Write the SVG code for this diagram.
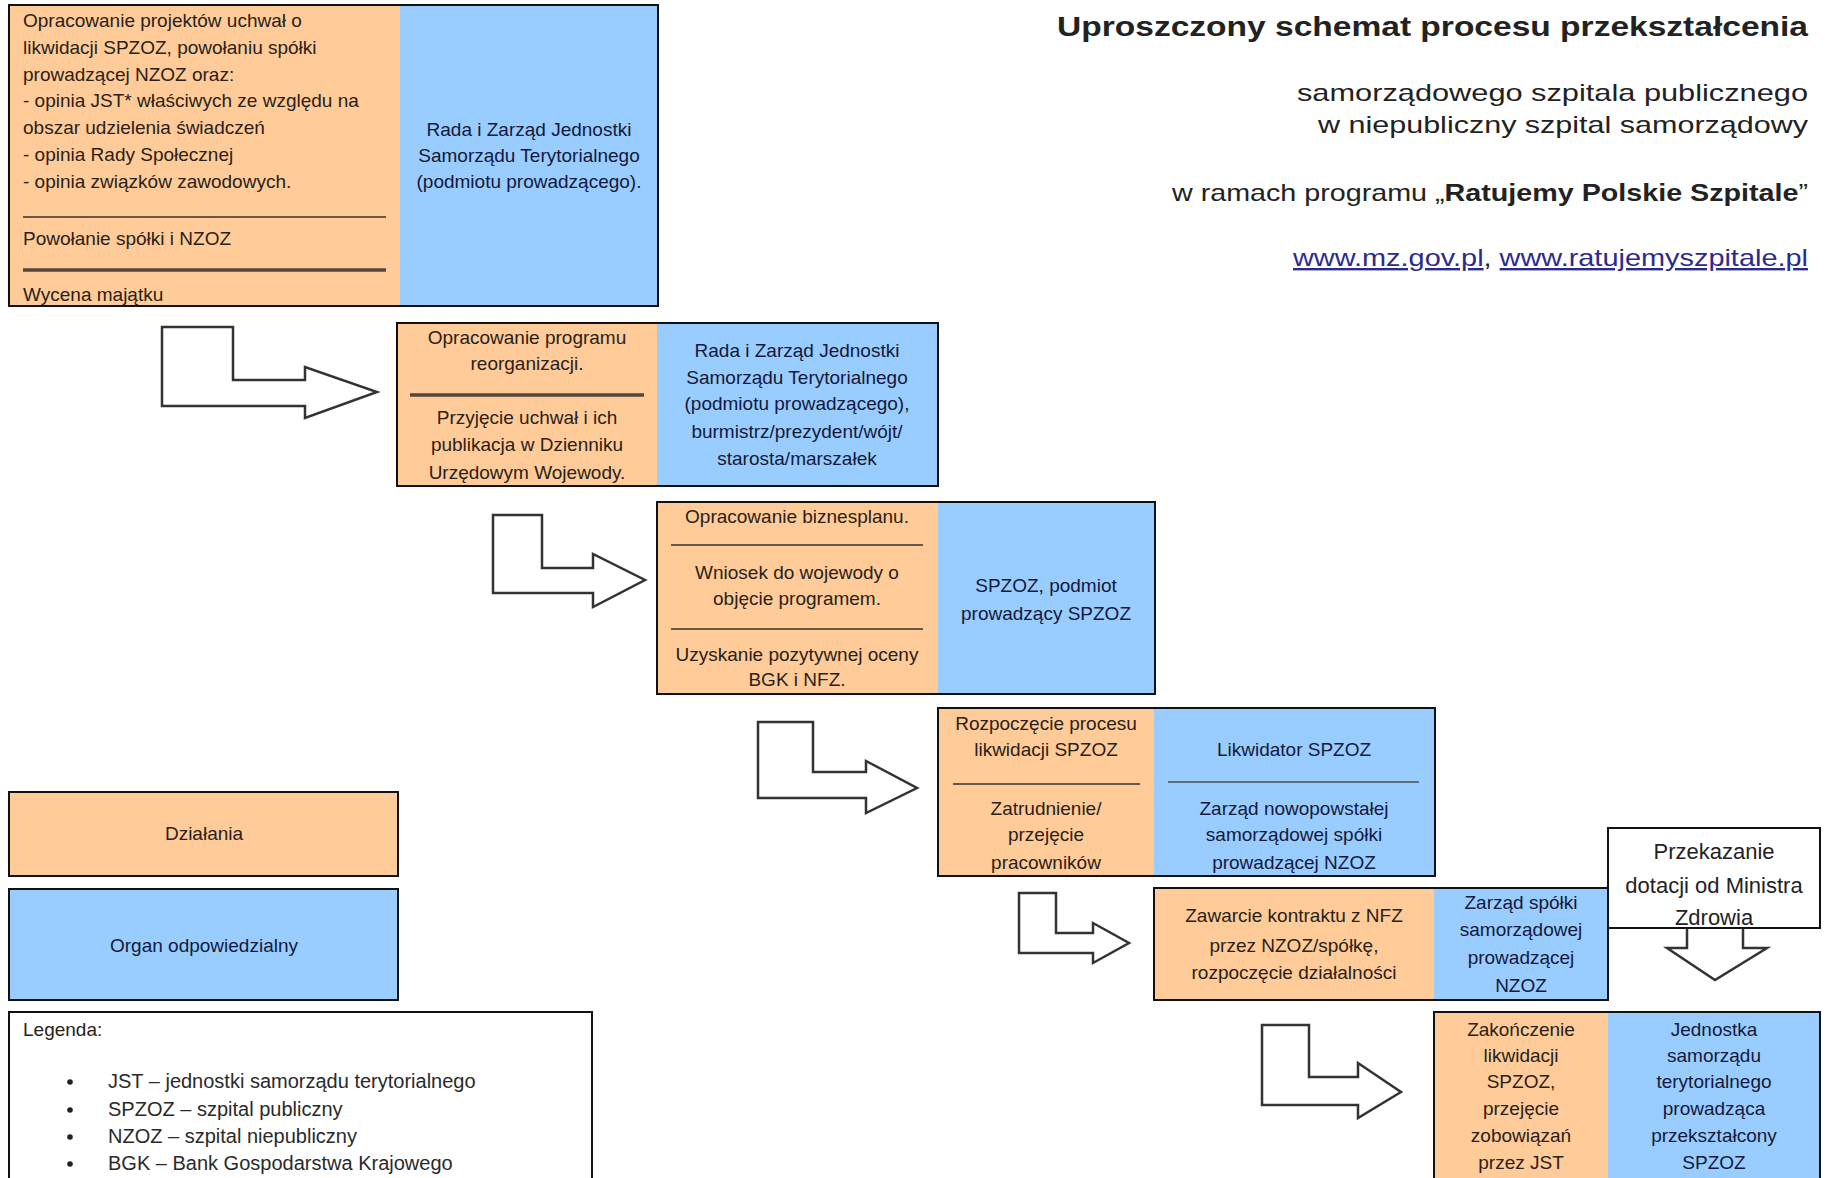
<svg xmlns="http://www.w3.org/2000/svg" width="1827" height="1178" viewBox="0 0 1827 1178">
<style>
.o{fill:#FFCC99}
.b{fill:#99CCFF}
.w{fill:#FFFFFF}
.fr{fill:none;stroke:#111;stroke-width:2}
.t{font-family:"Liberation Sans",Arial,sans-serif;font-size:19px;fill:#2a2118}
.tb{font-family:"Liberation Sans",Arial,sans-serif;font-size:19px;fill:#13193a}
.tl{font-family:"Liberation Sans",Arial,sans-serif;font-size:20px;fill:#2a2a2a}
.tp{font-family:"Liberation Sans",Arial,sans-serif;font-size:22px;fill:#222;text-anchor:middle}
.c{text-anchor:middle}
.so{stroke:#6a5846;stroke-width:2}
.sot{stroke:#55463a;stroke-width:3.5}
.sb{stroke:#5d6e80;stroke-width:2}
.arr{fill:#FFFFFF;stroke:#333;stroke-width:2.5;stroke-linejoin:miter}
.hd{font-family:"Liberation Sans",Arial,sans-serif;fill:#222;text-anchor:end}
.lk{fill:#2b2b8f;text-decoration:underline}
</style>
<rect width="1827" height="1178" fill="#FFFFFF"/>

<g id="header">
<text class="hd" x="1808" y="36" font-size="27" font-weight="bold" textLength="751" lengthAdjust="spacingAndGlyphs">Uproszczony schemat procesu przekształcenia</text>
<text class="hd" x="1808" y="101" font-size="24" textLength="511" lengthAdjust="spacingAndGlyphs">samorządowego szpitala publicznego</text>
<text class="hd" x="1808" y="133" font-size="24" textLength="490" lengthAdjust="spacingAndGlyphs">w niepubliczny szpital samorządowy</text>
<text class="hd" x="1808" y="201" font-size="24" textLength="636" lengthAdjust="spacingAndGlyphs">w ramach programu „<tspan font-weight="bold">Ratujemy Polskie Szpitale</tspan>”</text>
<text class="hd" x="1808" y="266" font-size="24" textLength="515" lengthAdjust="spacingAndGlyphs"><tspan class="lk">www.mz.gov.pl</tspan>, <tspan class="lk">www.ratujemyszpitale.pl</tspan></text>
</g>

<g id="step1">
<rect class="o" x="9" y="5" width="391" height="301"/>
<rect class="b" x="400" y="5" width="258" height="301"/>
<rect class="fr" x="9" y="5" width="649" height="301"/>
<text class="t" x="23" y="27">Opracowanie projektów uchwał o</text>
<text class="t" x="23" y="54">likwidacji SPZOZ, powołaniu spółki</text>
<text class="t" x="23" y="81">prowadzącej NZOZ oraz:</text>
<text class="t" x="23" y="107">- opinia JST* właściwych ze względu na</text>
<text class="t" x="23" y="134">obszar udzielenia świadczeń</text>
<text class="t" x="23" y="161">- opinia Rady Społecznej</text>
<text class="t" x="23" y="188">- opinia związków zawodowych.</text>
<line class="so" x1="23" y1="217" x2="386" y2="217"/>
<text class="t" x="23" y="245">Powołanie spółki i NZOZ</text>
<line class="sot" x1="23" y1="270" x2="386" y2="270"/>
<text class="t" x="23" y="301">Wycena majątku</text>
<text class="tb c" x="529" y="136">Rada i Zarząd Jednostki</text>
<text class="tb c" x="529" y="162">Samorządu Terytorialnego</text>
<text class="tb c" x="529" y="188">(podmiotu prowadzącego).</text>
</g>

<g id="step2">
<rect class="o" x="397" y="323" width="260" height="163"/>
<rect class="b" x="657" y="323" width="281" height="163"/>
<rect class="fr" x="397" y="323" width="541" height="163"/>
<text class="t c" x="527" y="344">Opracowanie programu</text>
<text class="t c" x="527" y="370">reorganizacji.</text>
<line class="sot" x1="410" y1="395" x2="644" y2="395"/>
<text class="t c" x="527" y="424">Przyjęcie uchwał i ich</text>
<text class="t c" x="527" y="451">publikacja w Dzienniku</text>
<text class="t c" x="527" y="479">Urzędowym Wojewody.</text>
<text class="tb c" x="797" y="357">Rada i Zarząd Jednostki</text>
<text class="tb c" x="797" y="384">Samorządu Terytorialnego</text>
<text class="tb c" x="797" y="410">(podmiotu prowadzącego),</text>
<text class="tb c" x="797" y="438">burmistrz/prezydent/wójt/</text>
<text class="tb c" x="797" y="465">starosta/marszałek</text>
</g>

<g id="step3">
<rect class="o" x="657" y="502" width="281" height="192"/>
<rect class="b" x="938" y="502" width="217" height="192"/>
<rect class="fr" x="657" y="502" width="498" height="192"/>
<text class="t c" x="797" y="523">Opracowanie biznesplanu.</text>
<line class="so" x1="671" y1="545" x2="923" y2="545"/>
<text class="t c" x="797" y="579">Wniosek do wojewody o</text>
<text class="t c" x="797" y="605">objęcie programem.</text>
<line class="so" x1="671" y1="629" x2="923" y2="629"/>
<text class="t c" x="797" y="661">Uzyskanie pozytywnej oceny</text>
<text class="t c" x="797" y="686">BGK i NFZ.</text>
<text class="tb c" x="1046" y="592">SPZOZ, podmiot</text>
<text class="tb c" x="1046" y="620">prowadzący SPZOZ</text>
</g>

<g id="step4">
<rect class="o" x="938" y="708" width="216" height="168"/>
<rect class="b" x="1154" y="708" width="281" height="168"/>
<rect class="fr" x="938" y="708" width="497" height="168"/>
<text class="t c" x="1046" y="730">Rozpoczęcie procesu</text>
<text class="t c" x="1046" y="756">likwidacji SPZOZ</text>
<line class="so" x1="953" y1="784" x2="1140" y2="784"/>
<text class="t c" x="1046" y="815">Zatrudnienie/</text>
<text class="t c" x="1046" y="841">przejęcie</text>
<text class="t c" x="1046" y="869">pracowników</text>
<text class="tb c" x="1294" y="756">Likwidator SPZOZ</text>
<line class="sb" x1="1168" y1="782" x2="1419" y2="782"/>
<text class="tb c" x="1294" y="815">Zarząd nowopowstałej</text>
<text class="tb c" x="1294" y="841">samorządowej spółki</text>
<text class="tb c" x="1294" y="869">prowadzącej NZOZ</text>
</g>

<g id="step5">
<rect class="o" x="1154" y="888" width="280" height="112"/>
<rect class="b" x="1434" y="888" width="174" height="112"/>
<rect class="fr" x="1154" y="888" width="454" height="112"/>
<text class="t c" x="1294" y="922">Zawarcie kontraktu z NFZ</text>
<text class="t c" x="1294" y="952">przez NZOZ/spółkę,</text>
<text class="t c" x="1294" y="979">rozpoczęcie działalności</text>
<text class="tb c" x="1521" y="909">Zarząd spółki</text>
<text class="tb c" x="1521" y="936">samorządowej</text>
<text class="tb c" x="1521" y="964">prowadzącej</text>
<text class="tb c" x="1521" y="992">NZOZ</text>
</g>

<g id="dotacja">
<rect class="w" x="1608" y="828" width="212" height="100"/>
<rect class="fr" x="1608" y="828" width="212" height="100"/>
<text class="tp" x="1714" y="859">Przekazanie</text>
<text class="tp" x="1714" y="893">dotacji od Ministra</text>
<text class="tp" x="1714" y="925">Zdrowia</text>
</g>

<g id="step6">
<rect class="o" x="1434" y="1012" width="174" height="170"/>
<rect class="b" x="1608" y="1012" width="212" height="170"/>
<rect class="fr" x="1434" y="1012" width="386" height="170"/>
<text class="t c" x="1521" y="1036">Zakończenie</text>
<text class="t c" x="1521" y="1062">likwidacji</text>
<text class="t c" x="1521" y="1088">SPZOZ,</text>
<text class="t c" x="1521" y="1115">przejęcie</text>
<text class="t c" x="1521" y="1142">zobowiązań</text>
<text class="t c" x="1521" y="1169">przez JST</text>
<text class="tb c" x="1714" y="1036">Jednostka</text>
<text class="tb c" x="1714" y="1062">samorządu</text>
<text class="tb c" x="1714" y="1088">terytorialnego</text>
<text class="tb c" x="1714" y="1115">prowadząca</text>
<text class="tb c" x="1714" y="1142">przekształcony</text>
<text class="tb c" x="1714" y="1169">SPZOZ</text>
</g>

<g id="legend-dzialania">
<rect class="o" x="9" y="792" width="389" height="84"/>
<rect class="fr" x="9" y="792" width="389" height="84"/>
<text class="t c" x="204" y="840">Działania</text>
</g>
<g id="legend-organ">
<rect class="b" x="9" y="889" width="389" height="111"/>
<rect class="fr" x="9" y="889" width="389" height="111"/>
<text class="tb c" x="204" y="952">Organ odpowiedzialny</text>
</g>
<g id="legend">
<rect class="w" x="9" y="1012" width="583" height="170"/>
<rect class="fr" x="9" y="1012" width="583" height="170"/>
<text class="t" x="23" y="1036">Legenda:</text>
<circle cx="70" cy="1082" r="2.8" fill="#222"/>
<circle cx="70" cy="1110" r="2.8" fill="#222"/>
<circle cx="70" cy="1137" r="2.8" fill="#222"/>
<circle cx="70" cy="1164" r="2.8" fill="#222"/>
<text class="tl" x="108" y="1088">JST – jednostki samorządu terytorialnego</text>
<text class="tl" x="108" y="1116">SPZOZ – szpital publiczny</text>
<text class="tl" x="108" y="1143">NZOZ – szpital niepubliczny</text>
<text class="tl" x="108" y="1170">BGK – Bank Gospodarstwa Krajowego</text>
</g>

<g id="connectors">
<polygon class="arr" points="162,327 233,327 233,380 305,380 305,367 377,392 305,418 305,406 162,406"/>
<polygon class="arr" points="493,515 542,515 542,568 593,568 593,554 645,580 593,607 593,593 493,593"/>
<polygon class="arr" points="758,722 813,722 813,772 866,772 866,761 917,788 866,813 866,798 758,798"/>
<polygon class="arr" points="1019,893 1056,893 1056,933 1093,933 1093,923 1129,943 1093,963 1093,953 1019,953"/>
<polygon class="arr" points="1262,1025 1309,1025 1309,1077 1358,1077 1358,1063 1401,1092 1358,1118 1358,1105 1262,1105"/>
<polyline class="arr" points="1687,929 1687,948 1667,948 1715,980 1767,948 1743,948 1743,929"/>
</g>
</svg>
